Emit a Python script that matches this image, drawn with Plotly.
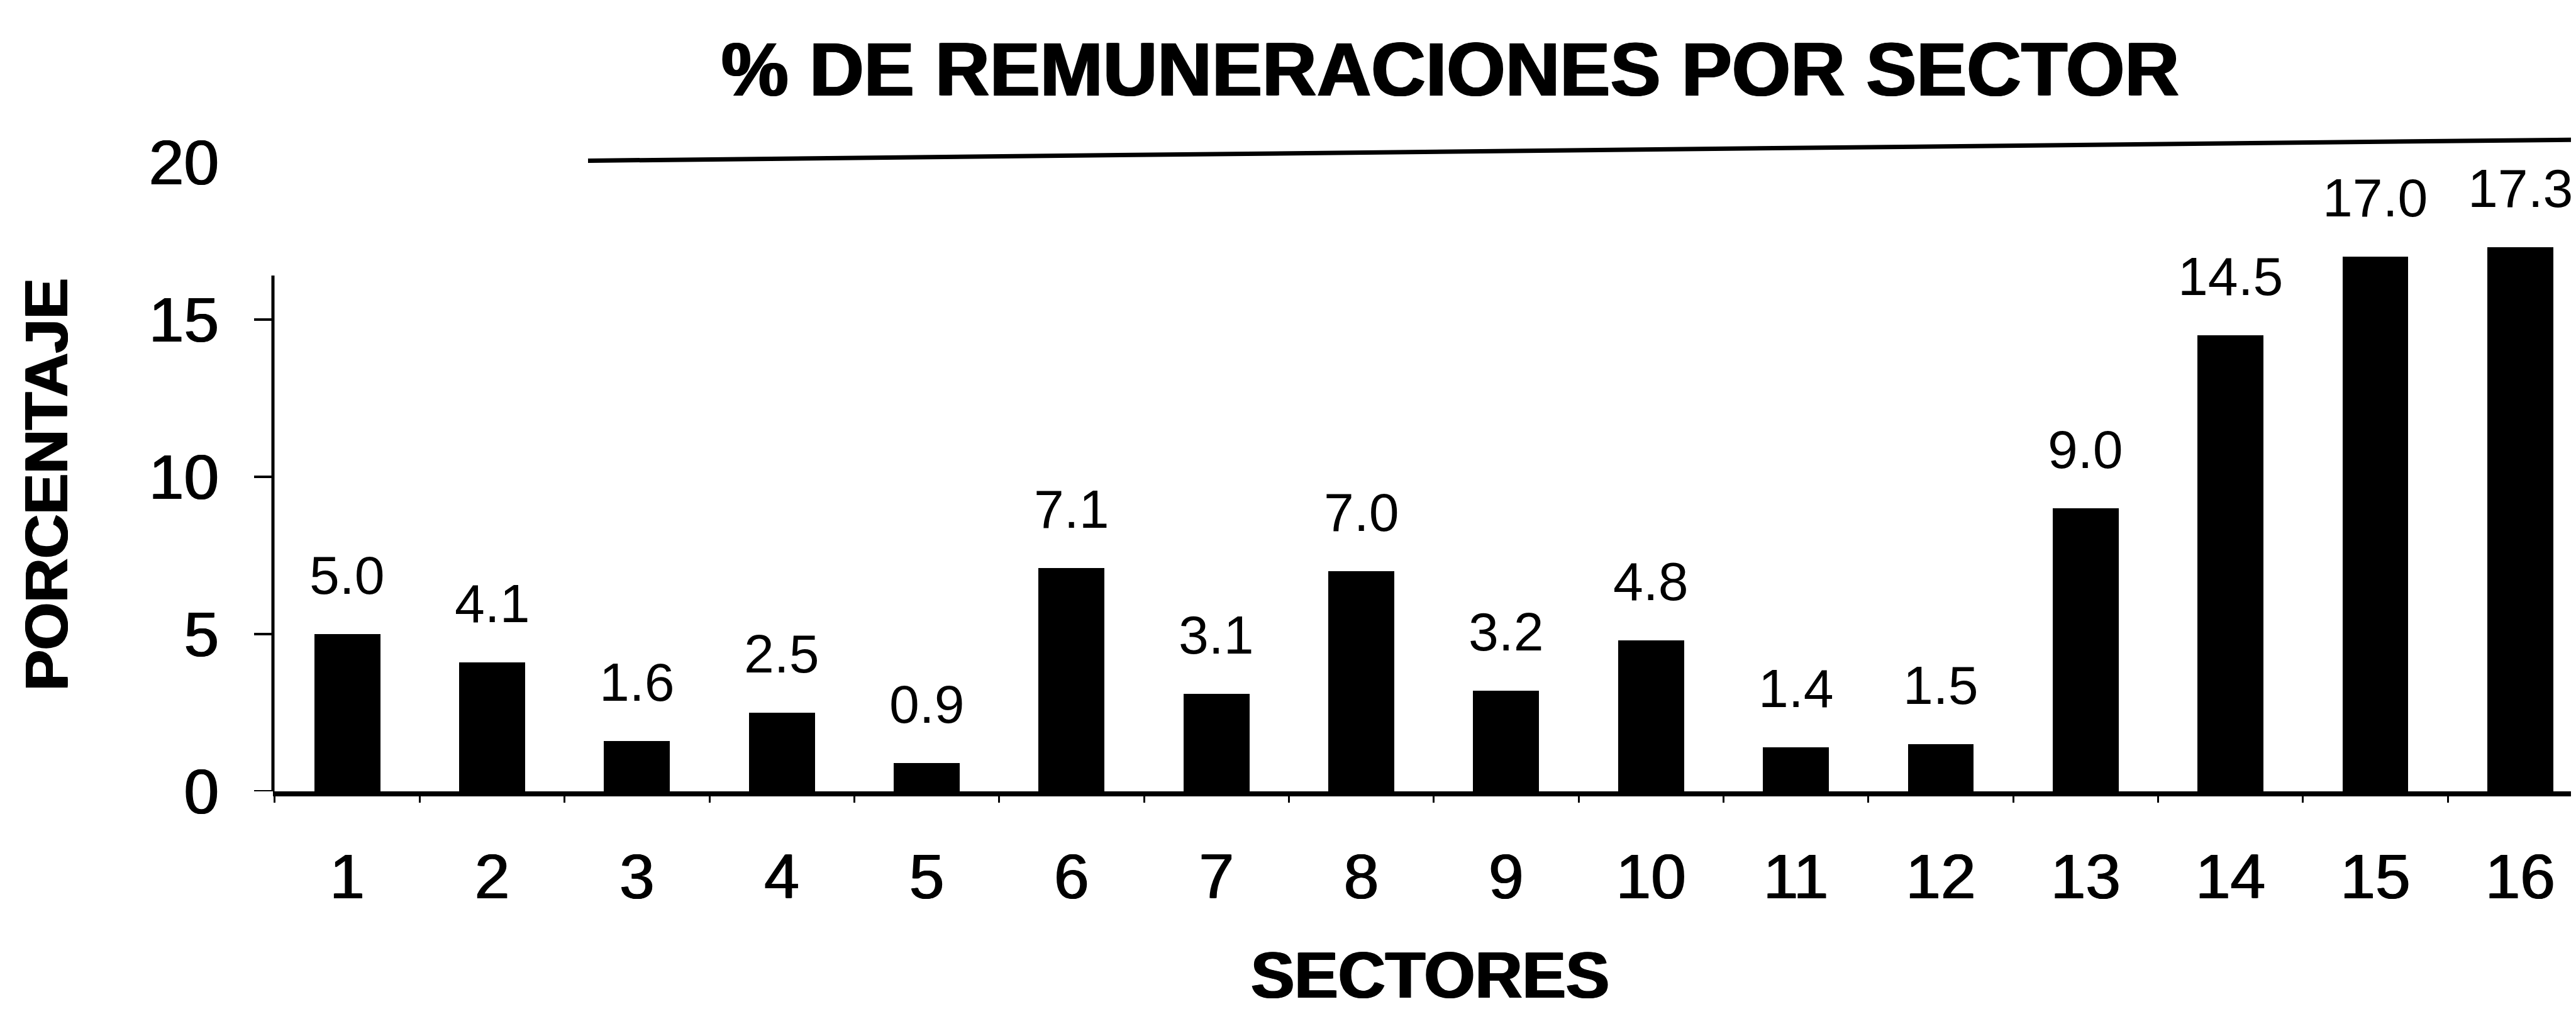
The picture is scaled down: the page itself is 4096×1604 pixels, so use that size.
import plotly.graph_objects as go

# ---- data ----
sectores = list(range(1, 17))
porcentajes = [5.0, 4.1, 1.6, 2.5, 0.9, 7.1, 3.1, 7.0, 3.2, 4.8, 1.4, 1.5, 9.0, 14.5, 17.0, 17.3]
etiquetas = ["5.0", "4.1", "1.6", "2.5", "0.9", "7.1", "3.1", "7.0", "3.2", "4.8",
             "1.4", "1.5", "9.0", "14.5", "17.0", "17.3"]
x_ticktext = [str(s) for s in sectores]
y_tickvals = [0, 5, 10, 15, 20]
y_tickmarks = [0, 5, 10, 15]

titulo = "% DE REMUNERACIONES POR SECTOR"
titulo_y = "PORCENTAJE"
titulo_x = "SECTORES"

# ---- layout geometry (output pixels) ----
W, H = 4096, 1604
L, R, T, B = 426, 0, 150, 354
PW = W - L - R
PH = H - T - B
FONT = "Liberation Sans, Arial, Helvetica, sans-serif"
HEAVY = "1.5px 0px 0px black, -1.5px 0px 0px black"
MEDIUM = "1px 0px 0px black, -1px 0px 0px black"

fig = go.Figure()
fig.add_trace(go.Bar(
    x=sectores, y=porcentajes, width=0.455,
    marker=dict(color="black", line=dict(width=0)),
    showlegend=False, hoverinfo="x+y",
))

annotations = []
for s, v, t in zip(sectores, porcentajes, etiquetas):
    annotations.append(dict(
        x=s, y=v, xref="x", yref="y", text=t, showarrow=False,
        yanchor="bottom", xanchor="center", yshift=44,
        font=dict(family=FONT, size=86, color="black"),
    ))

annotations.append(dict(
    x=(65 - L) / PW, y=(T + PH - 762) / PH, xref="paper", yref="paper",
    text="<b>" + titulo_y + "</b>", textangle=-90, showarrow=False,
    xanchor="center", yanchor="middle",
    font=dict(family=FONT, size=97, color="black", shadow=HEAVY),
))
annotations.append(dict(
    x=(2266 - L) / PW, y=(T + PH - 1602) / PH, xref="paper", yref="paper",
    text="<b>" + titulo_x + "</b>", showarrow=False,
    xanchor="center", yanchor="bottom",
    font=dict(family=FONT, size=104, color="black", shadow=HEAVY),
))

shapes = []
# vertical axis line (stops below the 20 tick, as in the original)
shapes.append(dict(type="line", xref="paper", yref="y", x0=0, x1=0, y0=0, y1=16.4,
                   line=dict(color="black", width=5)))
for v in y_tickmarks:
    shapes.append(dict(type="line", xref="paper", yref="y", x0=-30 / PW, x1=0, y0=v, y1=v,
                       line=dict(color="black", width=4)))
# top rule
shapes.append(dict(type="line", xref="paper", yref="y", x0=(927 - L) / PW, x1=1.0,
                   y0=20.05, y1=20.72, line=dict(color="black", width=7)))

fig.update_layout(
    width=W, height=H,
    margin=dict(l=L, r=R, t=T, b=B, autoexpand=False),
    paper_bgcolor="white", plot_bgcolor="white",
    title=dict(text="<b>" + titulo + "</b>", xref="container", yref="container",
               x=2298 / W, y=1 - 102 / H, xanchor="center", yanchor="middle",
               font=dict(family=FONT, size=120, color="black", shadow=HEAVY)),
    xaxis=dict(range=[0.487, 16.42], tickvals=sectores, ticktext=x_ticktext,
               ticks="", showgrid=False, zeroline=False,
               showline=True, linecolor="black", linewidth=8,
               tickfont=dict(family=FONT, size=100, color="black", shadow=MEDIUM),
               ticklabelstandoff=42, automargin=False,
               minor=dict(tick0=0.5, dtick=1, ticks="outside", ticklen=10,
                          tickwidth=3, tickcolor="black", showgrid=False)),
    yaxis=dict(range=[0, 22], tickvals=y_tickvals, ticks="", showgrid=False,
               zeroline=False, showline=False,
               tickfont=dict(family=FONT, size=100, color="black", shadow=MEDIUM),
               ticklabelstandoff=85, automargin=False),
    annotations=annotations,
    shapes=shapes,
    bargap=0,
)

fig.write_html("out.html")
